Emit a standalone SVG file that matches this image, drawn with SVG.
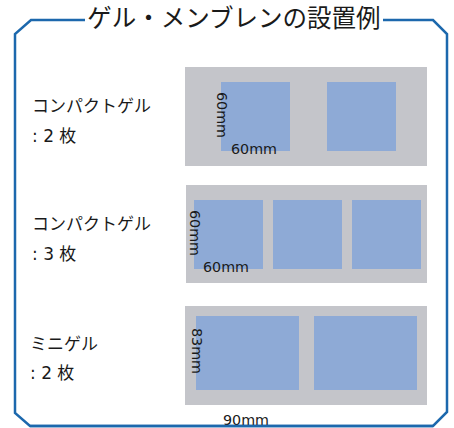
<svg xmlns="http://www.w3.org/2000/svg" width="454" height="428" viewBox="0 0 454 428">
<style>
.frame{fill:none;stroke:#1c68ad;stroke-width:2.5}
.tray{fill:#c4c5ca}
.gel{fill:#8eaad6}
.title{font-family:"Noto Sans CJK JP","Noto Sans",sans-serif;font-size:24.5px;fill:#1a1a1a}
.lbl{font-family:"DejaVu Sans","Noto Sans CJK JP",sans-serif;font-size:17px;fill:#1a1a1a}
.dim{font-family:"DejaVu Sans",sans-serif;font-size:14.3px;fill:#1a1a1a}
</style>
<rect width="454" height="428" fill="#ffffff"/>
<g id="frame">
<path class="frame" d="M85,20 L31,20 L15,34 L15,413 L30,426 L433,426 L447,412 L447,34 L433,20 L383,20"/>
<text class="title" x="234" y="27" text-anchor="middle">ゲル・メンブレンの設置例</text>
</g>
<g id="row1">
<text class="lbl" x="32" y="112">コンパクトゲル</text>
<text class="lbl" x="32" y="142">: 2 枚</text>
<rect class="tray" x="185" y="67" width="242" height="99"/>
<rect class="gel" x="221" y="82" width="69" height="69"/>
<rect class="gel" x="327" y="82" width="69" height="69"/>
<text class="dim" transform="translate(217,92) rotate(90)">60mm</text>
<text class="dim" x="231" y="154">60mm</text>
</g>
<g id="row2">
<text class="lbl" x="32" y="230">コンパクトゲル</text>
<text class="lbl" x="32" y="260">: 3 枚</text>
<rect class="tray" x="186" y="185" width="241" height="98"/>
<rect class="gel" x="194" y="200" width="69" height="69"/>
<rect class="gel" x="273" y="200" width="69" height="69"/>
<rect class="gel" x="352" y="200" width="69" height="69"/>
<text class="dim" transform="translate(190,210) rotate(90)">60mm</text>
<text class="dim" x="203" y="272">60mm</text>
</g>
<g id="row3">
<text class="lbl" x="30" y="350">ミニゲル</text>
<text class="lbl" x="30" y="379">: 2 枚</text>
<rect class="tray" x="185" y="306" width="242" height="99"/>
<rect class="gel" x="196" y="316" width="103" height="74"/>
<rect class="gel" x="314" y="316" width="103" height="74"/>
<text class="dim" transform="translate(192,328) rotate(90)">83mm</text>
<text class="dim" x="223" y="425">90mm</text>
</g>
<g id="connectors"></g>
<path class="frame" d="M30,426 L433,426"/>
</svg>
